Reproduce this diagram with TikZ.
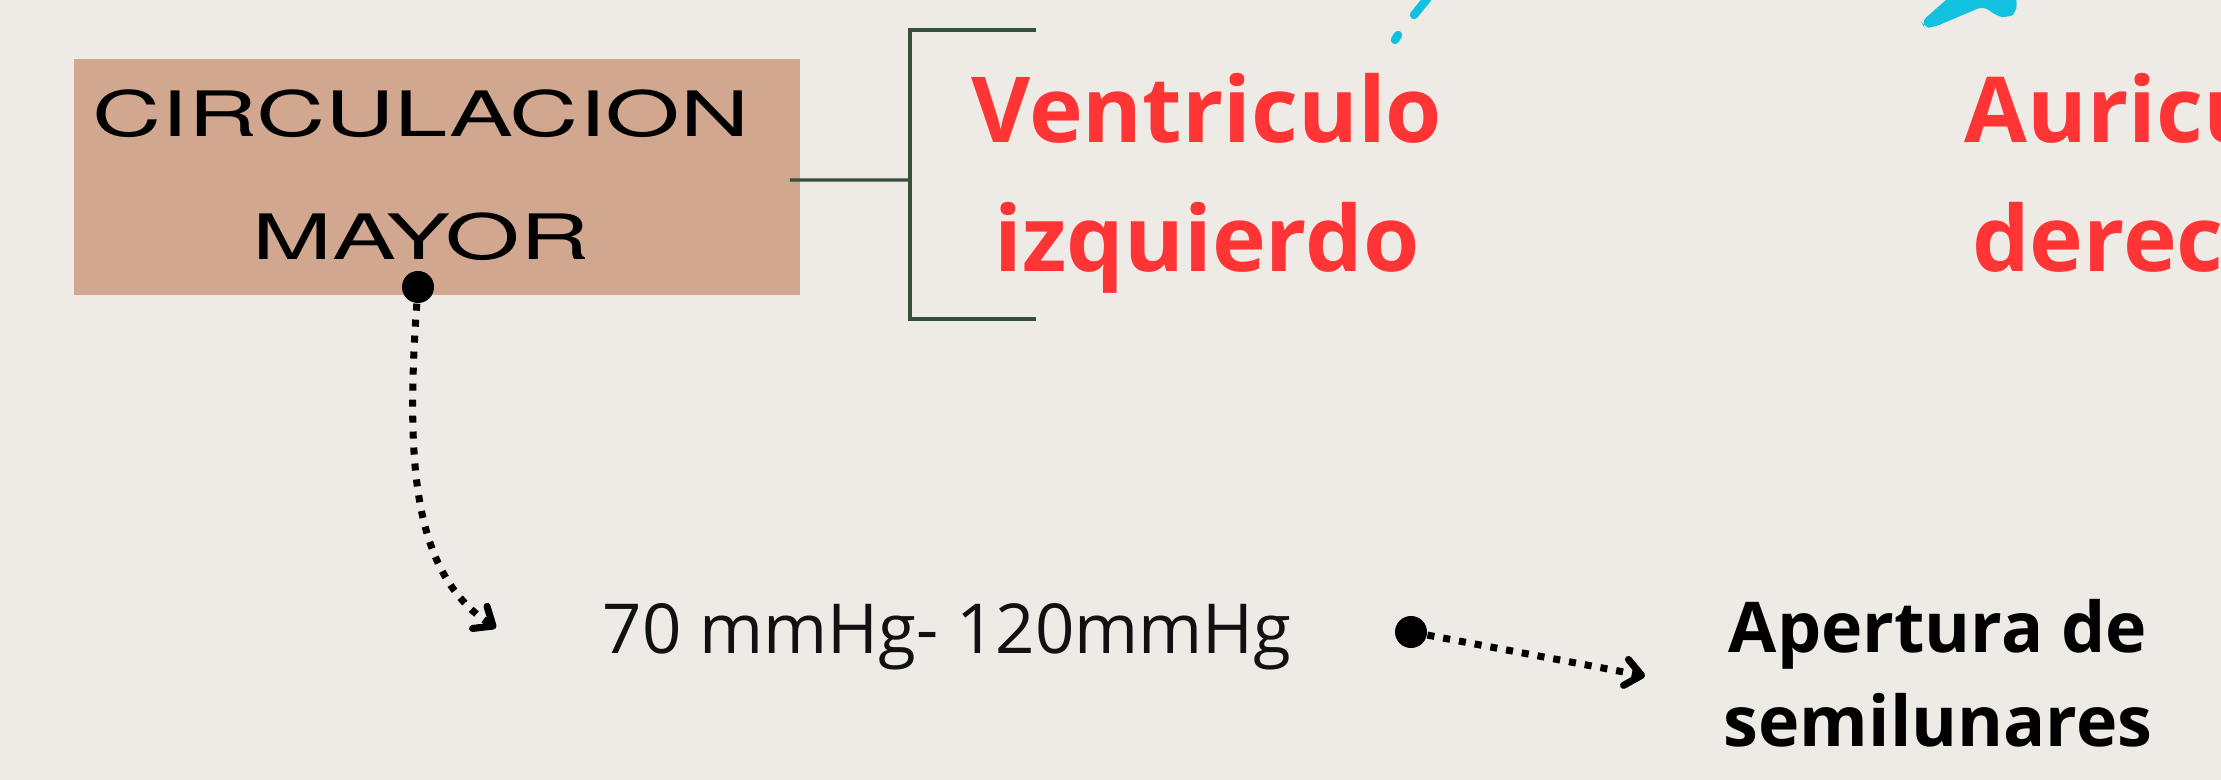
\documentclass[tikz,border=0pt]{standalone}
\usepackage{fontspec}
\setmainfont{Open Sans}
\newfontfamily\widefont[FakeStretch=1.53]{TeX Gyre Heros}
\usetikzlibrary{arrows.meta}
\definecolor{bgc}{HTML}{EEEAE6}
\definecolor{boxc}{HTML}{D1A88F}
\definecolor{redc}{HTML}{FF3535}
\definecolor{cyanc}{HTML}{12C0E0}
\definecolor{brkc}{HTML}{34503A}
\definecolor{inkc}{HTML}{111111}
\begin{document}
\begin{tikzpicture}[x=0.01cm,y=-0.01cm,
  boxstyle/.style={fill=boxc, draw=none, minimum width=7.26cm, minimum height=2.35cm, inner sep=0pt},
  titlestyle/.style={font=\widefont\fontsize{17.8pt}{35pt}\selectfont, align=center, inner sep=0pt, text=black},
  brk/.style={draw=brkc, line width=0.9pt},
  dotnode/.style={circle, fill=black, minimum size=0.32cm, inner sep=0pt},
  dotarrow/.style={draw=black, line width=2pt, dash pattern=on 2pt off 2.55pt, -{Straight Barb[length=4.5pt,width=7.5pt,round]}},
  redtext/.style={font=\bfseries\fontsize{25.9pt}{36.7pt}\selectfont, text=redc, align=center, inner sep=0pt},
  plaintext/.style={font=\fontsize{19.6pt}{23pt}\selectfont, text=inkc, inner sep=0pt},
  boldtext/.style={font=\bfseries\fontsize{19.9pt}{27pt}\selectfont, text=black, align=center, inner sep=0pt},
  cyanseg/.style={draw=cyanc, line width=2.4pt, line cap=round},
  cyanfill/.style={fill=cyanc, draw=none, rounded corners=2pt}
]
\path[use as bounding box, fill=bgc] (0,0) rectangle (2221,780);

% decorative cyan shapes at the top
\draw[cyanseg] (1395,40) -- (1398,35) (1414,15) -- (1431,-6);
\fill[cyanfill] (1955,-8) -- (1921,22) -- (1924,27) -- (1932,28) -- (1984,6) -- (1996,16) -- (2008,18) -- (2017,12) -- (2016,-8) -- cycle;

% box
\node[boxstyle] (box) at (437,177) {};
\node[titlestyle, anchor=base] (title) at (421,260) {CIRCULACION\\MAYOR};

% bracket
\coordinate (bmid) at (910,180);
\coordinate (btop) at (1036,30);
\coordinate (bbot) at (1036,319);
\draw[brk] ([xshift=-0.11cm,yshift=-0.03cm]box.east) -- (bmid);
\draw[brk] (btop) -- (910,30) -- (910,319) -- (bbot);

\node[redtext, anchor=base] (vent) at (1207,272) {Ventriculo\\izquierdo};
\node[redtext, anchor=base west] (auri) at (1964,272) {Auriculo\\derecho};

% lower part
\node[dotnode] (d1) at (418,287) {};
\coordinate (a1) at (496,628);
\draw[dotarrow] (d1) .. controls (405,470) and (415,575) .. (a1);

\node[plaintext, anchor=base west] (press) at (602,654) {70 mmHg- 120mmHg};
\node[dotnode] (d2) at (1411,632) {};
\coordinate (a2) at (1645,676);
\draw[dotarrow] (d2) -- (a2);

\node[boldtext, anchor=base] (aper) at (1938,747) {Apertura de\\semilunares};
\end{tikzpicture}
\end{document}
